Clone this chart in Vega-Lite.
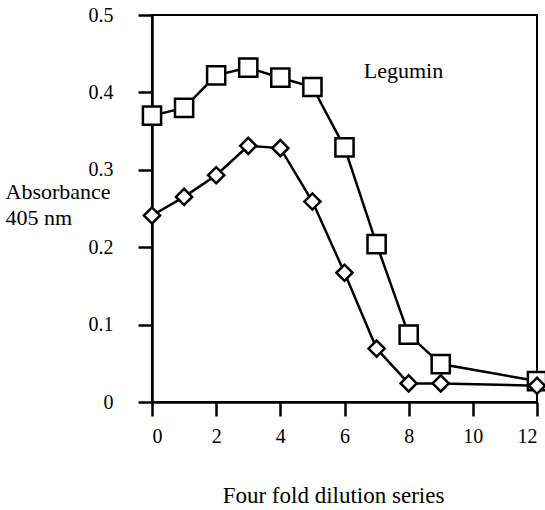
{
  "$schema": "https://vega.github.io/schema/vega-lite/v6.json",
  "width": 385,
  "height": 387,
  "autosize": {"type": "none"},
  "padding": {"left": 152, "top": 15, "right": 8, "bottom": 108},
  "background": "white",
  "config": {
    "view": {"stroke": "black", "strokeWidth": 2},
    "font": "Liberation Serif",
    "axis": {"domainColor": "black", "domainWidth": 2.5, "tickColor": "black", "tickWidth": 2.5, "tickSize": 14, "labelColor": "black", "titleColor": "black", "labelFont": "Liberation Serif", "titleFont": "Liberation Serif", "labelFontSize": 20, "titleFontSize": 23, "titleFontWeight": "normal", "grid": false}
  },
  "datasets": {
    "series": [
      {"dilution": 0, "absorbance": 0.37, "series": "A"},
      {"dilution": 1, "absorbance": 0.38, "series": "A"},
      {"dilution": 2, "absorbance": 0.422, "series": "A"},
      {"dilution": 3, "absorbance": 0.432, "series": "A"},
      {"dilution": 4, "absorbance": 0.419, "series": "A"},
      {"dilution": 5, "absorbance": 0.407, "series": "A"},
      {"dilution": 6, "absorbance": 0.329, "series": "A"},
      {"dilution": 7, "absorbance": 0.204, "series": "A"},
      {"dilution": 8, "absorbance": 0.087, "series": "A"},
      {"dilution": 9, "absorbance": 0.049, "series": "A"},
      {"dilution": 12, "absorbance": 0.027, "series": "A"},
      {"dilution": 0, "absorbance": 0.241, "series": "B"},
      {"dilution": 1, "absorbance": 0.265, "series": "B"},
      {"dilution": 2, "absorbance": 0.293, "series": "B"},
      {"dilution": 3, "absorbance": 0.331, "series": "B"},
      {"dilution": 4, "absorbance": 0.328, "series": "B"},
      {"dilution": 5, "absorbance": 0.259, "series": "B"},
      {"dilution": 6, "absorbance": 0.167, "series": "B"},
      {"dilution": 7, "absorbance": 0.069, "series": "B"},
      {"dilution": 8, "absorbance": 0.024, "series": "B"},
      {"dilution": 9, "absorbance": 0.024, "series": "B"},
      {"dilution": 12, "absorbance": 0.021, "series": "B"}
    ],
    "label": [{"dilution": 6.6, "absorbance": 0.428, "text": "Legumin"}]
  },
  "layer": [
    {
      "data": {"name": "series"},
      "mark": {"type": "line", "color": "black", "strokeWidth": 2.5},
      "encoding": {
        "x": {"field": "dilution", "type": "quantitative", "scale": {"domain": [0, 12], "nice": false}, "axis": {"values": [0, 2, 4, 6, 8, 10, 12], "title": "Four fold dilution series", "labelPadding": 10, "titlePadding": 38, "titleX": 181, "titleAlign": "center", "format": "d"}},
        "y": {"field": "absorbance", "type": "quantitative", "scale": {"domain": [0, 0.5], "nice": false}, "axis": {"values": [0, 0.1, 0.2, 0.3, 0.4, 0.5], "labelPadding": 25, "labelExpr": "datum.value == 0 ? '0' : format(datum.value, '.1f')", "title": ["Absorbance", "405 nm"], "titleFontSize": 22, "titleAngle": 0, "titleAlign": "left", "titleBaseline": "top", "titleX": -147, "titleY": 166, "titleLineHeight": 26}},
        "detail": {"field": "series"}
      }
    },
    {
      "data": {"name": "series"},
      "transform": [{"filter": "datum.series == 'A'"}],
      "mark": {"type": "point", "shape": "square", "size": 330, "filled": true, "fill": "white", "stroke": "black", "strokeWidth": 2.5, "opacity": 1},
      "encoding": {
        "x": {"field": "dilution", "type": "quantitative"},
        "y": {"field": "absorbance", "type": "quantitative"}
      }
    },
    {
      "data": {"name": "series"},
      "transform": [{"filter": "datum.series == 'B'"}],
      "mark": {"type": "point", "shape": "diamond", "size": 260, "filled": true, "fill": "white", "stroke": "black", "strokeWidth": 2.5, "opacity": 1},
      "encoding": {
        "x": {"field": "dilution", "type": "quantitative"},
        "y": {"field": "absorbance", "type": "quantitative"}
      }
    },
    {
      "data": {"name": "label"},
      "mark": {"type": "text", "align": "left", "baseline": "middle", "fontSize": 22, "font": "Liberation Serif", "color": "black"},
      "encoding": {
        "x": {"field": "dilution", "type": "quantitative"},
        "y": {"field": "absorbance", "type": "quantitative"},
        "text": {"field": "text"}
      }
    }
  ]
}
